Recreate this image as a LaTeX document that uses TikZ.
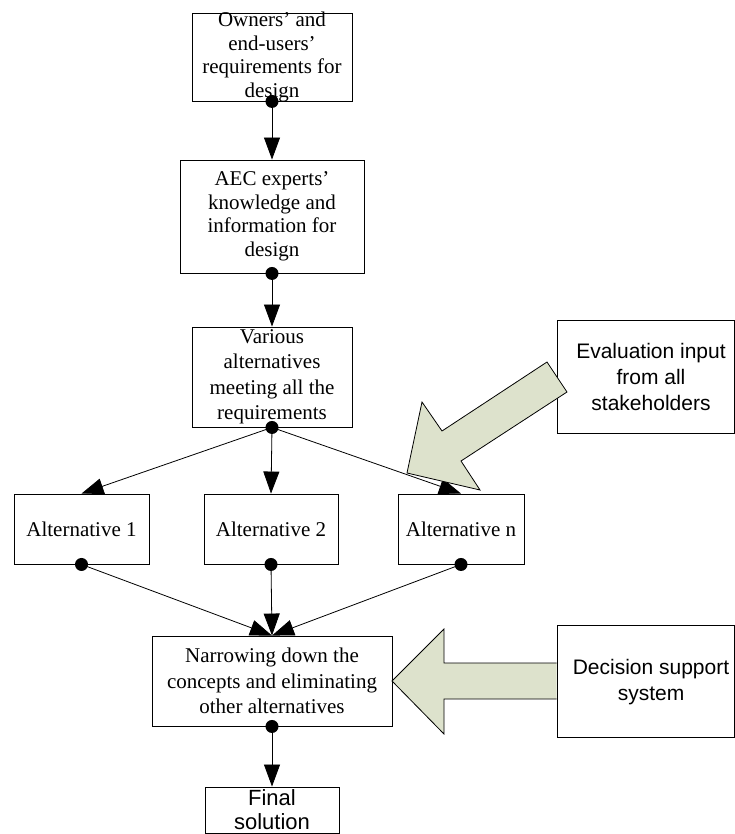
\documentclass[tikz,border=0pt]{standalone}
\usepackage{fontspec}
\setmainfont{Liberation Serif}
\setsansfont{Liberation Sans}
\usetikzlibrary{arrows.meta}
\definecolor{blockfill}{RGB}{221,226,204}
\begin{document}
\begin{tikzpicture}[x=1pt,y=-1pt,
  boxshape/.style={draw, line width=0.9pt, inner sep=0pt},
  serif/.style={font=\fontsize{21}{23.5}\selectfont, align=center, inner sep=0pt},
  serifwide/.style={font=\fontsize{21}{25.5}\selectfont, align=center, inner sep=0pt},
  sans/.style={font=\sffamily\fontsize{21}{26}\selectfont, align=center, inner sep=0pt},
  sanssmall/.style={font=\sffamily\fontsize{22}{24}\selectfont, align=center, inner sep=0pt},
  conn/.style={line width=0.8pt, -{Triangle[length=22pt,width=16pt]}},
  block/.style={draw, line width=0.8pt, fill=blockfill, line join=miter}]
\useasboundingbox (0,0) rectangle (735,834);

% boxes
\node[boxshape, minimum width=160pt, minimum height=88pt] (b1) at (272,57) {};
\node[boxshape, minimum width=184pt, minimum height=113pt] (b2) at (272,216.5) {};
\node[boxshape, minimum width=160pt, minimum height=100pt] (b3) at (272,377) {};
\node[boxshape, minimum width=135pt, minimum height=70pt] (a1) at (81.5,529) {};
\node[boxshape, minimum width=134pt, minimum height=70pt] (a2) at (271,529) {};
\node[boxshape, minimum width=126pt, minimum height=70pt] (an) at (461,529) {};
\node[boxshape, minimum width=240pt, minimum height=90pt] (nw) at (272,681) {};
\node[boxshape, minimum width=134pt, minimum height=46pt] (fin) at (272,810) {};
\node[boxshape, minimum width=177pt, minimum height=113pt] (ev) at (645.5,376.5) {};
\node[boxshape, minimum width=177pt, minimum height=112pt] (ds) at (645.5,681) {};

% texts
\node[serif] (t1) at (b1.center) {Owners' and\\end-users'\\requirements for\\design};
\node[serif] (t2) at (b2.center) {AEC experts'\\knowledge and\\information for\\design};
\node[serifwide] (t3) at (b3.center) {Various\\alternatives\\meeting all the\\requirements};
\node[serif] (ta1) at (a1.center) {Alternative 1};
\node[serif] (ta2) at (a2.center) {Alternative 2};
\node[serif] (tan) at (an.center) {Alternative n};
\node[serifwide] (tnw) at (nw.center) {Narrowing down the\\concepts and eliminating\\other alternatives};
\node[sanssmall] (tfin) at (fin.center) {Final\\solution};
\node[sans] (tev) at (651,376.5) {Evaluation input\\from all\\stakeholders};
\node[sans] (tds) at (651,682) {Decision support\\system};

% connectors
\draw[conn] (b1.south) -- (b2.north);
\draw[conn] (b2.south) -- (b3.north);
\draw[conn] (b3.south) -- (a1.north);
\draw[conn] (b3.south) -- (a2.north);
\draw[conn] (b3.south) -- (an.north);
\draw[conn] (a1.south) -- (nw.north);
\draw[conn] (a2.south) -- (nw.north);
\draw[conn] (an.south) -- (nw.north);
\draw[conn] (nw.south) -- (fin.north);

% dots
\foreach \n in {b1,b2,b3,a1,a2,an,nw} \fill (\n.south) circle (6.5pt);

% block arrows
\draw[block] (547,362) -- (442,431) -- (422,402) -- (407,473) -- (480,490) -- (461,461) -- (567,392) -- cycle;
\draw[block] (ds.west |- 0,663) -- (444,663) -- (444,629) -- (392,681) -- (444,734) -- (444,699) -- (ds.west |- 0,699);
\end{tikzpicture}
\end{document}
